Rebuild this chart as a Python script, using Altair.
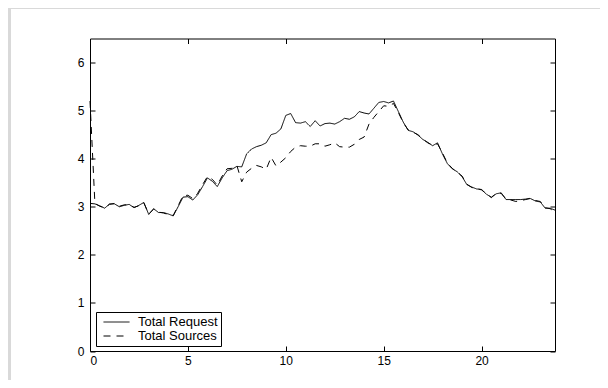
import altair as alt
import pandas as pd

# time of day (hours), 15-minute steps
hours = [i * 0.25 for i in range(96)]

total_request = [
    3.07, 3.06, 3.02, 2.97, 3.06, 3.06, 3.00, 3.03, 3.05, 2.98, 3.03, 3.09,
    2.84, 2.96, 2.88, 2.88, 2.85, 2.81, 3.00, 3.20, 3.21, 3.14, 3.25, 3.42,
    3.60, 3.53, 3.42, 3.60, 3.75, 3.78, 3.84, 3.83, 4.10, 4.20, 4.25, 4.28,
    4.33, 4.50, 4.53, 4.62, 4.90, 4.94, 4.75, 4.74, 4.77, 4.67, 4.79, 4.68,
    4.73, 4.74, 4.72, 4.77, 4.84, 4.82, 4.87, 4.98, 4.95, 4.93, 5.05, 5.17,
    5.19, 5.16, 5.20, 4.98, 4.76, 4.59, 4.56, 4.49, 4.40, 4.34, 4.27, 4.33,
    4.10, 3.90, 3.79, 3.73, 3.63, 3.46, 3.41, 3.37, 3.36, 3.26, 3.20, 3.27,
    3.29, 3.15, 3.15, 3.15, 3.15, 3.16, 3.17, 3.12, 3.10, 2.97, 2.97, 2.93,
]

total_sources = [
    5.20, 3.07, 3.01, 2.98, 3.05, 3.07, 3.01, 3.04, 3.04, 2.99, 3.02, 3.08,
    2.85, 2.95, 2.89, 2.87, 2.84, 2.82, 3.02, 3.23, 3.24, 3.17, 3.28, 3.46,
    3.63, 3.57, 3.45, 3.64, 3.79, 3.80, 3.86, 3.52, 3.72, 3.80, 3.86, 3.83,
    3.78, 4.03, 3.85, 3.93, 4.02, 4.15, 4.24, 4.27, 4.26, 4.26, 4.31, 4.31,
    4.26, 4.29, 4.33, 4.25, 4.24, 4.24, 4.30, 4.40, 4.45, 4.72, 4.86, 4.98,
    5.10, 5.09, 5.15, 4.96, 4.75, 4.60, 4.55, 4.50, 4.41, 4.33, 4.28, 4.31,
    4.12, 3.91, 3.80, 3.72, 3.64, 3.47, 3.40, 3.38, 3.35, 3.27, 3.19, 3.28,
    3.28, 3.16, 3.14, 3.11, 3.13, 3.15, 3.18, 3.13, 3.11, 2.98, 2.96, 2.89,
]

series_names = ["Total Request", "Total Sources"]
x_ticks = [0, 5, 10, 15, 20]
y_ticks = [0, 1, 2, 3, 4, 5, 6]

df = pd.DataFrame({
    "hour": hours + hours,
    "value": total_request + total_sources,
    "series": [series_names[0]] * len(hours) + [series_names[1]] * len(hours),
})

FONT = "Liberation Sans"
W, H = 465, 312.5

xscale = alt.Scale(domain=[0, 23.75], nice=False, zero=False)
yscale = alt.Scale(domain=[0, 6.5], nice=False, zero=False)

lines = alt.Chart(df).mark_line(strokeWidth=1, color="black").encode(
    x=alt.X("hour:Q", scale=xscale,
            axis=alt.Axis(values=x_ticks, title=None, orient="bottom", labelPadding=4)),
    y=alt.Y("value:Q", scale=yscale,
            axis=alt.Axis(values=y_ticks, title=None, orient="left", labelPadding=6)),
    strokeDash=alt.StrokeDash(
        "series:N",
        scale=alt.Scale(domain=series_names, range=[[1, 0], [7, 6]]),
        legend=alt.Legend(
            title=None, orient="none", legendX=6, legendY=273.5,
            strokeColor="black", fillColor="white", padding=3,
            symbolType="stroke", symbolSize=676, symbolStrokeWidth=1,
            symbolStrokeColor="black", clipHeight=14, rowPadding=0,
            labelFontSize=13, labelOffset=8, symbolOffset=4,
            labelFont=FONT, labelColor="black",
        ),
    ),
)

mirror = alt.Chart(df).mark_point(opacity=0).encode(
    x=alt.X("hour:Q", scale=xscale,
            axis=alt.Axis(values=x_ticks, title=None, orient="top", labels=False)),
    y=alt.Y("value:Q", scale=yscale,
            axis=alt.Axis(values=y_ticks, title=None, orient="right", labels=False)),
)

one = pd.DataFrame({"k": [0]})
strip_left = alt.Chart(one).mark_rect(color="#d9d9d9").encode(
    x=alt.value(-82), x2=alt.value(-79), y=alt.value(-31), y2=alt.value(400)
)
strip_top = alt.Chart(one).mark_rect(color="#d9d9d9").encode(
    x=alt.value(-82), x2=alt.value(520), y=alt.value(-31), y2=alt.value(-29.5)
)

chart = alt.layer(strip_left, strip_top, lines, mirror).resolve_axis(
    x="independent", y="independent"
).properties(
    width=W, height=H,
    autosize=alt.AutoSizeParams(type="none"),
    padding={"left": 82, "top": 30.5, "right": 45, "bottom": 29},
    background="white",
).configure_view(
    stroke="black", strokeWidth=1, fill="white"
).configure_axis(
    domain=False, grid=False, ticks=True, tickSize=5, offset=-5,
    tickColor="black", tickWidth=1, labelColor="black",
    labelFont=FONT, labelFontSize=12,
)

chart.save("out.html", embed_options={"renderer": "svg", "actions": False})
